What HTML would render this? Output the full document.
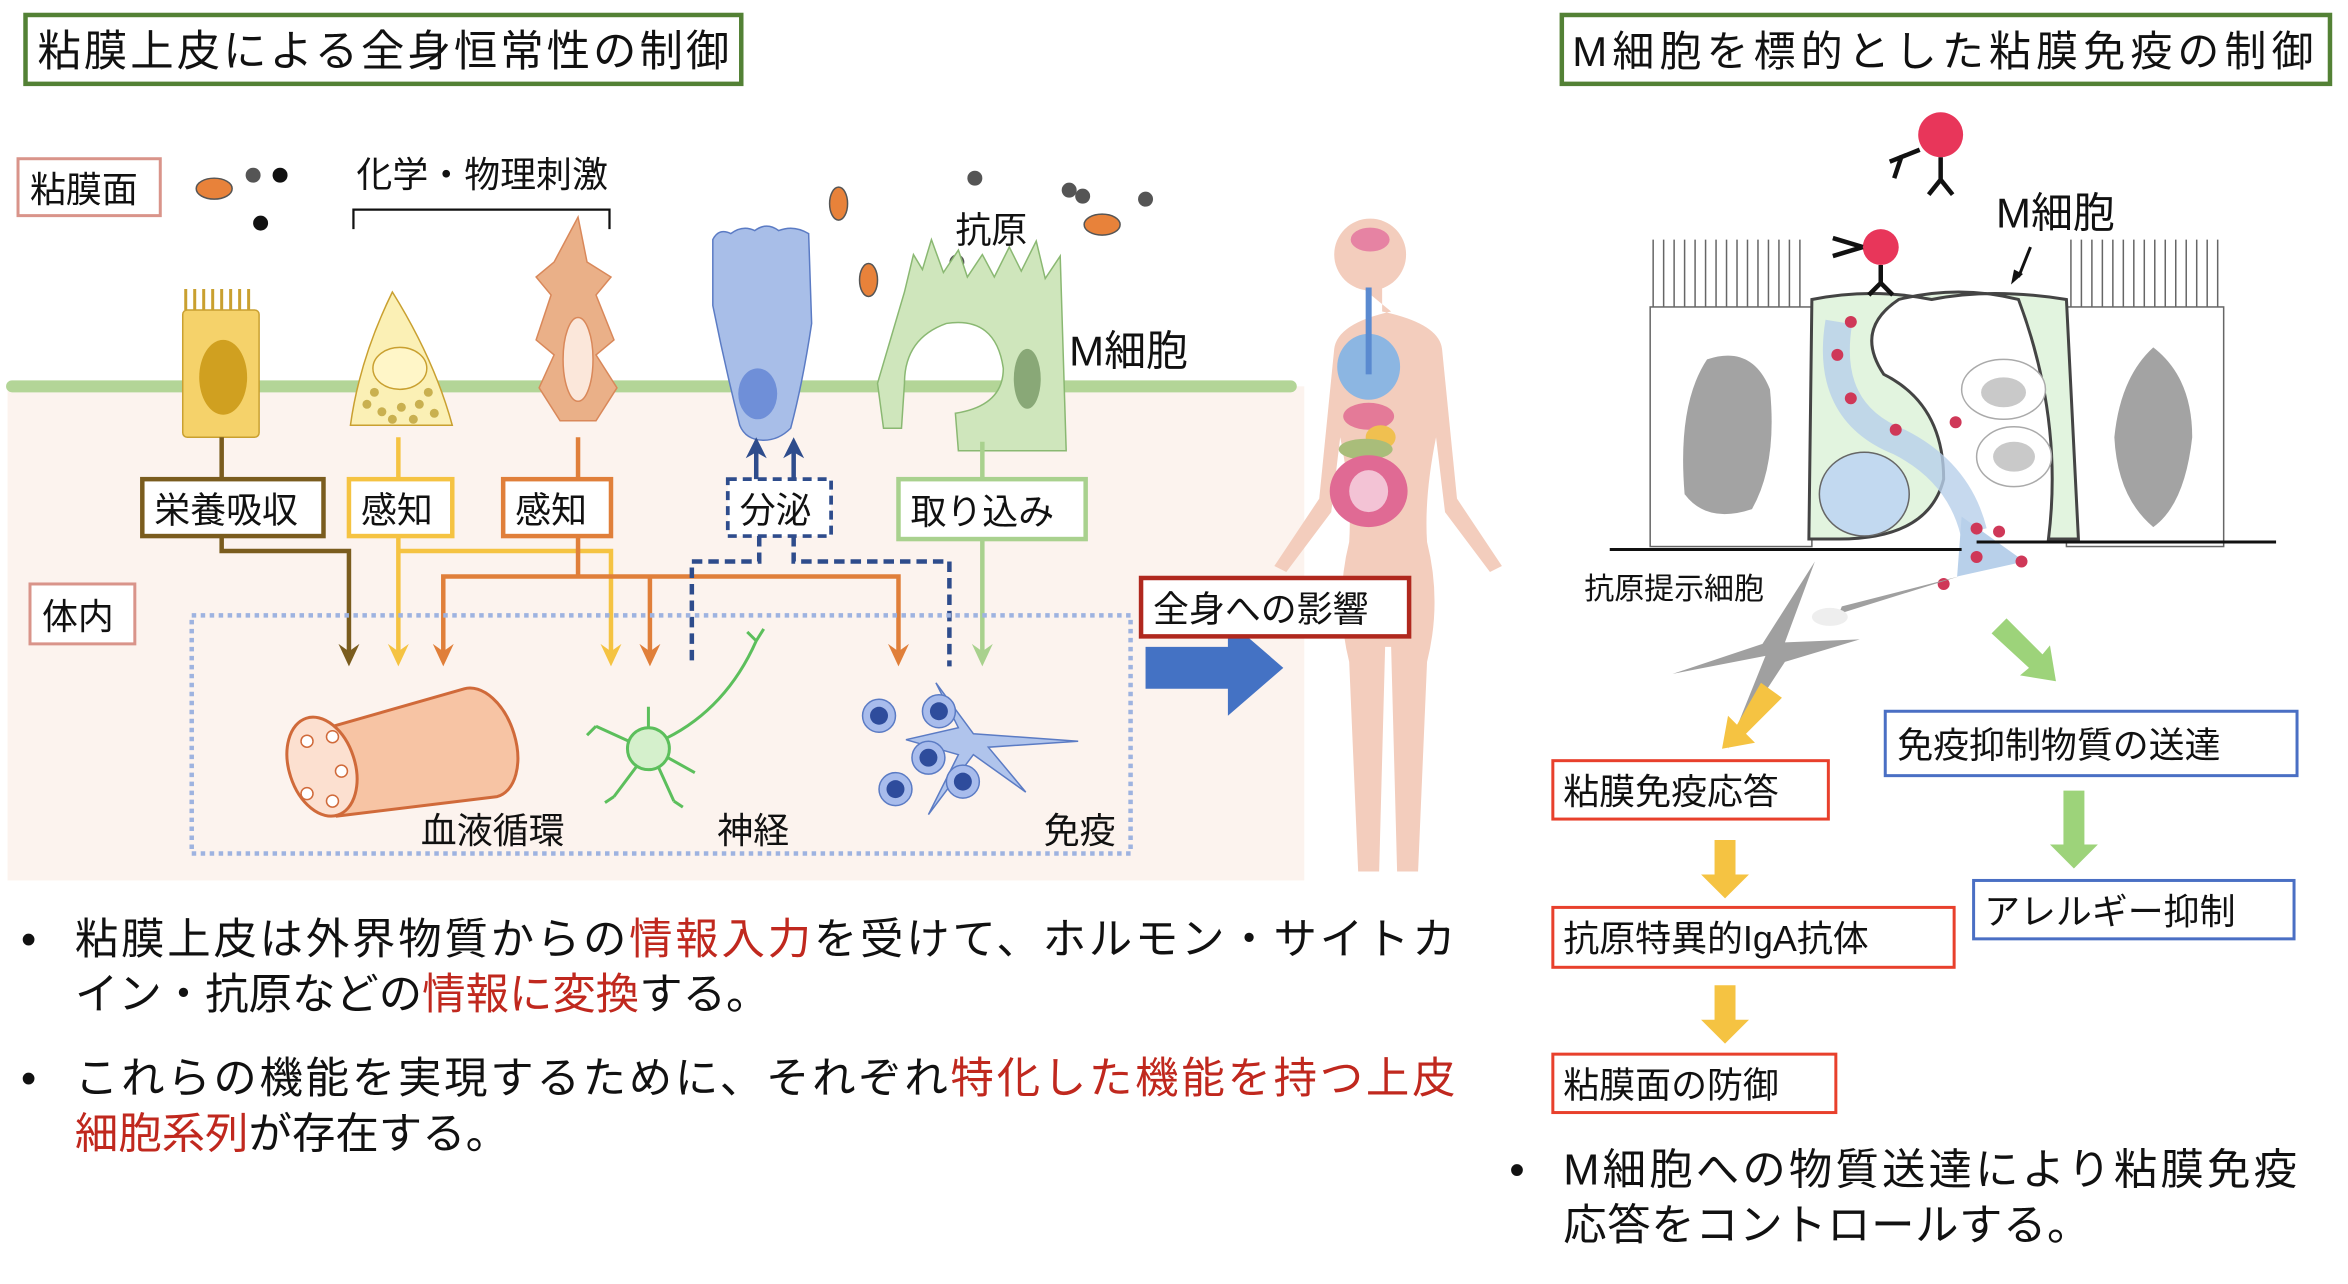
<!DOCTYPE html>
<html><head><meta charset="utf-8"><style>
html,body{margin:0;padding:0;background:#fff;width:2348px;height:1284px;overflow:hidden}
svg{display:block}
text{font-family:"Liberation Sans","Noto Sans CJK JP",sans-serif;fill:#111}
</style></head><body>
<svg width="2348" height="1284" viewBox="0 0 1568 857.5" xmlns="http://www.w3.org/2000/svg">
<!-- titles -->
<rect x="17" y="10" width="478" height="46" fill="#fff" stroke="#538135" stroke-width="3"/>
<text x="25" y="44" font-size="29" textLength="462">粘膜上皮による全身恒常性の制御</text>
<rect x="1043" y="10" width="513" height="46" fill="#fff" stroke="#538135" stroke-width="3"/>
<text x="1050" y="44" font-size="28" textLength="495">M細胞を標的とした粘膜免疫の制御</text>

<!-- left panel background -->
<rect x="5" y="258" width="866" height="330" fill="#fcf3ee"/>
<line x1="8" y1="258" x2="862" y2="258" stroke="#b3d597" stroke-width="8" stroke-linecap="round"/>

<!-- body figure -->
<g fill="#f3cdbd">
<circle cx="915" cy="170" r="24"/>
<path d="M907,190 h16 v18 q38,8 40,25 q6,60 10,100 l30,45 l-8,4 l-30,-40 l-6,-50 q-8,40 -6,70 q10,40 0,80 l-6,140 h-14 l-4,-150 h-4 l-4,150 h-14 l-6,-140 q-10,-40 0,-80 q2,-30 -6,-70 l-6,50 l-30,40 l-8,-4 l30,-45 q4,-40 10,-100 q2,-17 38,-25z"/>
</g>
<ellipse cx="915" cy="160" rx="13" ry="8" fill="#e683a3"/>
<ellipse cx="914" cy="245" rx="21" ry="22" fill="#8cb6e2"/>
<rect x="912" y="192" width="4" height="58" fill="#5a8ad0"/>
<ellipse cx="914" cy="278" rx="17" ry="9" fill="#e47a98"/>
<ellipse cx="922" cy="292" rx="10" ry="8" fill="#f0c050"/>
<ellipse cx="912" cy="300" rx="18" ry="7" fill="#a9bd7a"/>
<ellipse cx="914" cy="328" rx="26" ry="24" fill="#e06a94"/>
<ellipse cx="914" cy="328" rx="13" ry="14" fill="#f3c3d5"/>

<!-- labels boxes -->
<rect x="12" y="106" width="95" height="38" fill="#fff" stroke="#d9948a" stroke-width="2"/>
<text x="20" y="135" font-size="24">粘膜面</text>
<rect x="20" y="390" width="70" height="40" fill="#fff" stroke="#d9948a" stroke-width="2"/>
<text x="28" y="420" font-size="24">体内</text>
<text x="238" y="125" font-size="24">化学・物理刺激</text>
<path d="M236,153 v-13 h171 v13" fill="none" stroke="#111" stroke-width="1.5"/>

<!-- particles/bacteria -->
<g fill="#555"><circle cx="169" cy="117" r="5"/><circle cx="651" cy="119" r="5"/><circle cx="714" cy="127" r="5"/><circle cx="723" cy="131" r="5"/><circle cx="765" cy="133" r="5"/><circle cx="639" cy="175" r="5"/></g>
<g fill="#111"><circle cx="187" cy="117" r="5"/><circle cx="174" cy="149" r="5"/></g>
<g fill="#e8823a" stroke="#555"><ellipse cx="143" cy="126" rx="12" ry="7"/><ellipse cx="560" cy="136" rx="6" ry="11"/><ellipse cx="580" cy="187" rx="6" ry="11"/><ellipse cx="736" cy="150" rx="12" ry="7"/></g>

<!-- epithelial cells -->
<rect x="122" y="207" width="51" height="85" rx="3" fill="#f5d26a" stroke="#c9a030"/>
<path d="M124,207 v-14 M130,207 v-14 M136,207 v-14 M142,207 v-14 M148,207 v-14 M154,207 v-14 M160,207 v-14 M166,207 v-14" stroke="#c9a030" stroke-width="2"/>
<ellipse cx="149" cy="252" rx="16" ry="25" fill="#d0a020"/>
<path d="M262,195 Q290,240 302,284 L234,284 Q240,240 262,195 Z" fill="#fbf0b5" stroke="#c9a030"/>
<ellipse cx="267" cy="246" rx="18" ry="14" fill="#fff6c8" stroke="#c9a030"/>
<g fill="#c9b050"><circle cx="245" cy="270" r="3"/><circle cx="255" cy="275" r="3"/><circle cx="268" cy="272" r="3"/><circle cx="280" cy="270" r="3"/><circle cx="290" cy="276" r="3"/><circle cx="262" cy="280" r="3"/><circle cx="276" cy="280" r="3"/><circle cx="250" cy="262" r="3"/><circle cx="286" cy="262" r="3"/></g>
<path d="M386,145 l6,30 l16,10 l-10,12 l12,30 l-12,10 l14,22 l-14,22 l-24,0 l-14,-22 l10,-22 l-12,-10 l10,-30 l-10,-12 l12,-10 z" fill="#eab088" stroke="#d9885a"/>
<ellipse cx="386" cy="240" rx="10" ry="28" fill="#fbe7da" stroke="#d9885a"/>
<path d="M476,160 q4,-8 12,-4 q8,-6 16,-2 q8,-6 16,0 q10,-4 20,2 l2,60 q-6,40 -14,70 q-8,8 -18,8 q-12,0 -16,-10 q-10,-40 -18,-80 z" fill="#a8bee8" stroke="#5b7bc4"/>
<ellipse cx="506" cy="263" rx="13" ry="17" fill="#6f8fd8"/>
<path d="M604,195 l6,-25 l6,10 l6,-20 l8,22 l10,-15 l6,18 l10,-15 l8,15 l10,-20 l8,16 l10,-20 l6,25 l10,-15 l4,130 h-72 l-2,-25 q32,-5 32,-30 q-5,-35 -38,-30 q-28,10 -28,40 l-2,30 h-12 l-4,-30 z" fill="#cfe6bc" stroke="#8ab872"/>
<ellipse cx="686" cy="253" rx="9" ry="20" fill="#89a877"/>
<text x="714" y="244" font-size="28">M細胞</text>
<text x="638" y="162" font-size="24">抗原</text>

<!-- label boxes -->
<rect x="95" y="320" width="121" height="38" fill="#fff" stroke="#7a5c1e" stroke-width="3"/>
<text x="103" y="349" font-size="24">栄養吸収</text>
<rect x="233" y="320" width="69" height="38" fill="#fff" stroke="#f5c342" stroke-width="3"/>
<text x="241" y="349" font-size="24">感知</text>
<rect x="336" y="320" width="72" height="38" fill="#fff" stroke="#e07f3a" stroke-width="3"/>
<text x="344" y="349" font-size="24">感知</text>
<rect x="486" y="320" width="69" height="38" fill="#fff" stroke="#2e4c8c" stroke-width="2.5" stroke-dasharray="6,4"/>
<text x="494" y="349" font-size="24">分泌</text>
<rect x="600" y="320" width="125" height="40" fill="#fff" stroke="#a9d18e" stroke-width="3"/>
<text x="608" y="350" font-size="24">取り込み</text>

<!-- connectors -->
<g fill="none" stroke-width="3">
<path d="M148,292 v28 M148,358 v10 h85 v70" stroke="#7a5c1e"/>
<path d="M266,292 v28 M266,358 v80 M266,368 h142 v70" stroke="#f5c342"/>
<path d="M386,292 v28 M386,358 v27 M296,438 v-53 h304 v53 M434,385 v53" stroke="#e07f3a"/>
<path d="M656,295 v25 M656,360 v78" stroke="#a9d18e"/>
<path d="M507,358 v17 h-45 v70 M530,358 v17 h104 v70" stroke="#2e4c8c" stroke-dasharray="7,4"/>
<path d="M505,320 v-20 M530,320 v-20" stroke="#2e4c8c"/>
</g>
<g>
<path d="M226,430 l7,15 l7,-15 l-7,5z" fill="#7a5c1e"/>
<path d="M259,430 l7,15 l7,-15 l-7,5z" fill="#f5c342"/>
<path d="M401,430 l7,15 l7,-15 l-7,5z" fill="#f5c342"/>
<path d="M289,430 l7,15 l7,-15 l-7,5z" fill="#e07f3a"/>
<path d="M427,430 l7,15 l7,-15 l-7,5z" fill="#e07f3a"/>
<path d="M593,430 l7,15 l7,-15 l-7,5z" fill="#e07f3a"/>
<path d="M649,430 l7,15 l7,-15 l-7,5z" fill="#a9d18e"/>
<path d="M498,306 l7,-14 l7,14 l-7,-4z" fill="#2e4c8c"/>
<path d="M523,306 l7,-14 l7,14 l-7,-4z" fill="#2e4c8c"/>
</g>

<!-- dotted box -->
<rect x="128" y="411" width="627" height="159" fill="none" stroke="#9eb3e0" stroke-width="3" stroke-dasharray="3,3"/>
<!-- vessel -->
<path d="M205,490 L310,460 a22,36 -18 0 1 22,72 L225,545 z" fill="#f7c4a4" stroke="#d06a3a" stroke-width="2"/>
<ellipse cx="215" cy="512" rx="22" ry="34" transform="rotate(-18 215 512)" fill="#fce0d0" stroke="#d06a3a" stroke-width="2"/>
<g fill="#fff" stroke="#d06a3a"><circle cx="205" cy="495" r="4"/><circle cx="222" cy="492" r="4"/><circle cx="228" cy="515" r="4"/><circle cx="222" cy="535" r="4"/><circle cx="205" cy="530" r="4"/></g>
<!-- neuron -->
<circle cx="433" cy="500" r="14" fill="#d5f0cc" stroke="#5cbf5c" stroke-width="2"/>
<path d="M433,486 v-14 M445,493 q40,-20 60,-65 M420,495 l-22,-10 M425,512 l-15,20 M440,513 l10,22 M446,506 l18,10 M505,428 l5,-8 M505,428 l-6,-6 M398,485 l-6,6 M410,532 l-6,4 M450,535 l6,4" stroke="#5cbf5c" stroke-width="2" fill="none"/>
<!-- immune -->
<path d="M650,490 l70,5 l-60,4 l25,30 l-35,-25 l-30,40 l20,-40 l-35,-10 l35,-8 l-15,-30 z" fill="#b0c4ec" stroke="#5b7bc4"/>
<g fill="#a8bcec" stroke="#5b7bc4"><circle cx="587" cy="478" r="11"/><circle cx="627" cy="475" r="11"/><circle cx="620" cy="506" r="11"/><circle cx="598" cy="527" r="11"/><circle cx="643" cy="522" r="11"/></g>
<g fill="#2e4c9c"><circle cx="587" cy="478" r="6"/><circle cx="627" cy="475" r="6"/><circle cx="620" cy="506" r="6"/><circle cx="598" cy="527" r="6"/><circle cx="643" cy="522" r="6"/></g>
<text x="281" y="563" font-size="24">血液循環</text>
<text x="479" y="563" font-size="24">神経</text>
<text x="697" y="563" font-size="24">免疫</text>

<!-- big arrow & box -->
<path d="M765,432 h55 v-18 l37,32 l-37,32 v-18 h-55z" fill="#4472c4"/>
<rect x="762" y="386" width="179" height="39" fill="#fff" stroke="#b0281e" stroke-width="3"/>
<text x="770" y="415" font-size="24">全身への影響</text>

<!-- bullets left -->
<g font-size="29">
<text x="14" y="637">•</text>
<text x="50" y="637" textLength="922">粘膜上皮は外界物質からの<tspan fill="#c0281e">情報入力</tspan>を受けて、ホルモン・サイトカ</text>
<text x="50" y="674">イン・抗原などの<tspan fill="#c0281e">情報に変換</tspan>する。</text>
<text x="14" y="730">•</text>
<text x="50" y="730" textLength="922">これらの機能を実現するために、それぞれ<tspan fill="#c0281e">特化した機能を持つ上皮</tspan></text>
<text x="50" y="767"><tspan fill="#c0281e">細胞系列</tspan>が存在する。</text>
</g>

<!-- right diagram -->
<g stroke="#666" fill="none" stroke-width="1">
<rect x="1102" y="205" width="108" height="160" fill="#fff"/>
<rect x="1380" y="205" width="105" height="160" fill="#fff"/>
<path d="M1104,205 v-45 M1111,205 v-45 M1118,205 v-45 M1125,205 v-45 M1132,205 v-45 M1139,205 v-45 M1146,205 v-45 M1153,205 v-45 M1160,205 v-45 M1167,205 v-45 M1174,205 v-45 M1181,205 v-45 M1188,205 v-45 M1195,205 v-45 M1202,205 v-45"/>
<path d="M1383,205 v-45 M1390,205 v-45 M1397,205 v-45 M1404,205 v-45 M1411,205 v-45 M1418,205 v-45 M1425,205 v-45 M1432,205 v-45 M1439,205 v-45 M1446,205 v-45 M1453,205 v-45 M1460,205 v-45 M1467,205 v-45 M1474,205 v-45 M1481,205 v-45"/>
</g>
<path d="M1140,240 q30,-10 42,20 q5,50 -12,80 q-30,10 -45,-10 q-5,-60 15,-90z" fill="#a3a3a3"/>
<path d="M1438,232 q26,20 26,60 q-5,45 -26,60 q-24,-20 -26,-60 q4,-40 26,-60z" fill="#a3a3a3"/>
<path d="M1210,200 q40,-8 80,0 q40,-8 90,0 l8,160 h-20 q10,-80 -20,-160 q-40,-10 -80,0 q-30,20 -10,50 q40,20 40,70 q-10,40 -70,40 h-20z" fill="#e2f4df" stroke="#444" stroke-width="2"/>
<ellipse cx="1245" cy="330" rx="30" ry="28" fill="#c2d9f0" stroke="#666"/>
<ellipse cx="1338" cy="260" rx="28" ry="20" fill="#fff" stroke="#aaa"/>
<ellipse cx="1338" cy="262" rx="15" ry="10" fill="#c9c9c9"/>
<ellipse cx="1345" cy="305" rx="25" ry="20" fill="#fff" stroke="#aaa"/>
<ellipse cx="1345" cy="305" rx="14" ry="10" fill="#c9c9c9"/>
<path d="M1228,215 q-10,60 40,80 q40,20 50,60" stroke="#b8d0ea" stroke-width="18" fill="none" opacity="0.8"/>
<path d="M1310,345 l42,30 l-45,10z" fill="#b8d0ea"/>
<g fill="#cf3858"><circle cx="1236" cy="215" r="4"/><circle cx="1227" cy="237" r="4"/><circle cx="1236" cy="266" r="4"/><circle cx="1266" cy="287" r="4"/><circle cx="1320" cy="353" r="4"/><circle cx="1335" cy="355" r="4"/><circle cx="1320" cy="372" r="4"/><circle cx="1350" cy="375" r="4"/><circle cx="1298" cy="390" r="4"/><circle cx="1306" cy="282" r="4"/></g>
<path d="M1075,367 h235 M1320,362 h200" stroke="#111" stroke-width="2"/>
<circle cx="1296" cy="90" r="15" fill="#e8365a"/>
<circle cx="1256" cy="165" r="12" fill="#e8365a"/>
<path d="M1296,105 v15 l-8,10 M1296,120 l8,10 M1282,100 l-20,8 M1270,104 l-5,15 M1256,177 v12 l-8,8 M1256,189 l8,8 M1244,165 l-20,-6 M1244,165 l-20,6" stroke="#111" stroke-width="3" fill="none"/>
<text x="1333" y="152" font-size="28">M細胞</text>
<path d="M1356,165 l-8,20" stroke="#111" stroke-width="2"/><path d="M1343,190 l2,-10 l6,3z" fill="#111"/>
<path d="M1212,375 l-35,55 l-60,20 l62,-12 l-25,62 l38,-58 l50,-15 l-50,2z" fill="#a0a0a0"/>
<path d="M1228,410 l80,-25 l-78,20z" fill="#a0a0a0"/>
<ellipse cx="1222" cy="412" rx="12" ry="6" fill="#eee"/>
<text x="1058" y="400" font-size="20">抗原提示細胞</text>

<!-- right arrows -->
<g fill="#f5c342">
<path d="M1176,456 l14,10 l-24,24 l6,6 l-22,4 l4,-22 l6,6z"/>
<path d="M1145,561 h14 v23 h9 l-16,16 l-16,-16 h9z"/>
<path d="M1145,658 h14 v23 h9 l-16,16 l-16,-16 h9z"/>
</g>
<g fill="#9dd37a">
<path d="M1330,423 l10,-10 l24,24 l5,-6 l4,24 l-24,-4 l6,-5z"/>
<path d="M1378,528 h14 v36 h9 l-16,16 l-16,-16 h9z"/>
</g>
<g font-size="24">
<rect x="1037" y="508" width="184" height="39" fill="#fff" stroke="#e8402c" stroke-width="2"/>
<text x="1044" y="537">粘膜免疫応答</text>
<rect x="1037" y="606" width="268" height="40" fill="#fff" stroke="#e8402c" stroke-width="2"/>
<text x="1044" y="635">抗原特異的IgA抗体</text>
<rect x="1037" y="704" width="189" height="39" fill="#fff" stroke="#e8402c" stroke-width="2"/>
<text x="1044" y="733">粘膜面の防御</text>
<rect x="1259" y="475" width="275" height="43" fill="#fff" stroke="#4a6fc4" stroke-width="2"/>
<text x="1267" y="506">免疫抑制物質の送達</text>
<rect x="1318" y="588" width="214" height="39" fill="#fff" stroke="#4a6fc4" stroke-width="2"/>
<text x="1325" y="617">アレルギー抑制</text>
</g>
<g font-size="29">
<text x="1008" y="791">•</text>
<text x="1044" y="791" textLength="490">M細胞への物質送達により粘膜免疫</text>
<text x="1044" y="828" textLength="352">応答をコントロールする。</text>
</g>
</svg>
</body></html>
